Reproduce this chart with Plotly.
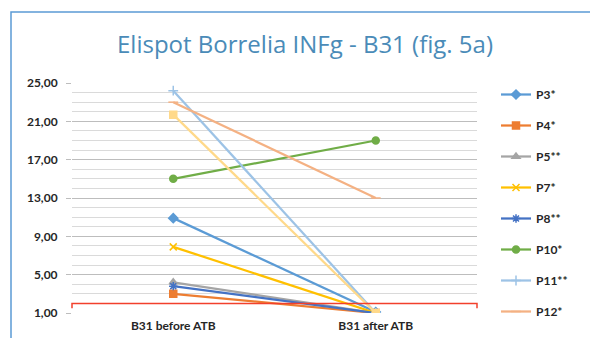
import plotly.graph_objects as go

categories = ["B31 before ATB", "B31 after ATB"]

series_names = ["P3*", "P4*", "P5**", "P7*", "P8**", "P10*", "P11**", "P12*", "P13"]
before = [10.9, 3.0, 4.2, 7.9, 3.8, 15.0, 24.2, 23.0, 21.7]
after = [1.1, 1.0, 1.0, 1.0, 1.0, 19.0, 1.0, 13.0, 1.0]
show_in_legend = [True, True, True, True, True, True, True, True, False]

colors = ["#5B9BD5", "#ED7D31", "#A5A5A5", "#FFC000", "#4472C4", "#70AD47",
          "#9DC3E6", "#F4B183", "#FFD98A"]
symbols = ["diamond", "square", "triangle-up", "x-thin-open", "asterisk-open", "circle",
           "cross-thin-open", "line-ew-open", "square"]

threshold = 2.0
tick_vals = [1, 5, 9, 13, 17, 21, 25]
tick_text = ["1,00", "5,00", "9,00", "13,00", "17,00", "21,00", "25,00"]

fig = go.Figure()
for i, name in enumerate(series_names):
    fig.add_trace(go.Scatter(
        x=categories, y=[before[i], after[i]], name=name, mode="lines+markers",
        legendgroup=name, showlegend=show_in_legend[i],
        line=dict(color=colors[i], width=2.25),
        marker=dict(symbol=symbols[i], size=7, color=colors[i],
                    line=dict(color=colors[i], width=1.5)),
    ))

OFF = 8  # page body margin
W, H = 598 - OFF, 338 - OFF
# plot area in screen pixels
SL, SR, ST, SB = 72, 477, 83, 313
L, R, T, B = SL - OFF, SR - OFF, ST - OFF, SB - OFF

def px(x):
    return (x - SL) / (SR - SL)

def py(y):
    return (SB - y) / (SB - ST)

# threshold line
fig.add_shape(type="path", xref="paper", yref="y",
              path=f"M 0,1.5 L 0,{threshold} L 1,{threshold} L 1,1.5",
              line=dict(color="#F2402C", width=1.5))

# chart frame
fig.add_shape(type="rect", xref="paper", yref="paper",
              x0=px(11), x1=px(596), y0=py(360), y1=py(12),
              line=dict(color="#5B9BD5", width=1.5), layer="below")

fig.update_layout(
    width=W, height=H,
    margin=dict(l=L, r=W - R, t=T, b=H - B, autoexpand=False),
    paper_bgcolor="white", plot_bgcolor="white",
    title=dict(text="Elispot Borrelia INFg - B31 (fig. 5a)",
               xref="container", yref="container",
               x=(305 - OFF) / W, xanchor="center",
               y=1 - (45 - OFF) / H, yanchor="middle",
               font=dict(family="Open Sans", size=24, color="#4A8BB8")),
    font=dict(family="Lato", size=12, color="#262626"),
    showlegend=True,
    legend=dict(x=px(496), xanchor="left", y=py(80), yanchor="top",
                font=dict(family="Lato", size=12, color="#262626", weight="bold"),
                tracegroupgap=12, itemwidth=30, bgcolor="rgba(0,0,0,0)",
                maxheight=600),
    xaxis=dict(type="category", range=[-0.5, 1.5], showgrid=False, zeroline=False,
               showline=False, ticks="", ticklabelstandoff=4,
               tickfont=dict(family="Lato", size=12, color="#262626", weight="bold")),
    yaxis=dict(range=[1, 25], tickvals=tick_vals, ticktext=tick_text,
               showgrid=True, gridcolor="#BDBDBD", gridwidth=1.3, zeroline=False,
               ticks="outside", ticklen=5, tickcolor="#BDBDBD", ticklabelstandoff=6,
               tickfont=dict(family="Lato", size=12, color="#262626", weight="bold"),
               minor=dict(dtick=1, tick0=1, showgrid=True, gridcolor="#DADADA", gridwidth=1)),
)

fig.write_html("out.html")
